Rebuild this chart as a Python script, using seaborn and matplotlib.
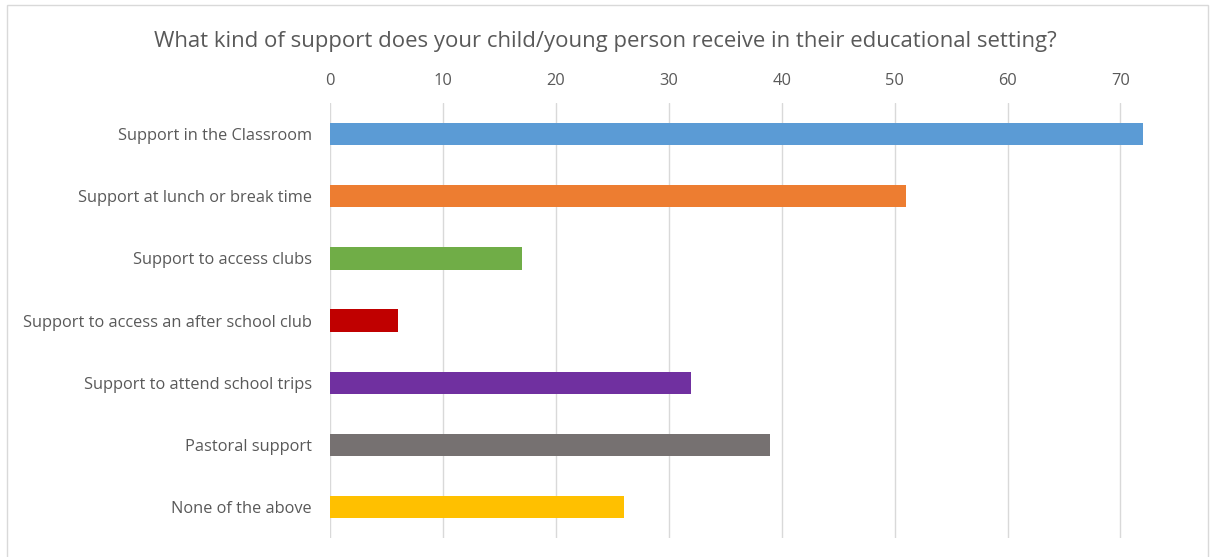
import pandas as pd
import matplotlib
matplotlib.use("Agg")
import matplotlib.pyplot as plt
import seaborn as sns
from matplotlib.patches import Rectangle

# survey answers and counts
categories = [
    "Support in the Classroom",
    "Support at lunch or break time",
    "Support to access clubs",
    "Support to access an after school club",
    "Support to attend school trips",
    "Pastoral support",
    "None of the above",
]
counts = [72, 51, 17, 6, 32, 39, 26]
bar_colors = ["#5B9BD5", "#ED7D31", "#70AD47", "#C00000", "#7030A0", "#767171", "#FFC000"]
x_ticks = [0, 10, 20, 30, 40, 50, 60, 70]

df = pd.DataFrame({"category": categories, "count": counts})

sns.set_style("white")
plt.rcParams["font.family"] = ["Open Sans", "DejaVu Sans"]
text_grey = "#595959"

fig = plt.figure(figsize=(12.11, 5.57), dpi=100)
ax = fig.add_axes([0.2725, 0.034, 0.718, 0.781])

sns.barplot(data=df, y="category", x="count", hue="category",
            palette=bar_colors, orient="h", width=0.36, legend=False,
            saturation=1, linewidth=0, ax=ax)

ax.set_xlim(0, 77)
ax.set_xticks(x_ticks)
ax.xaxis.tick_top()
ax.tick_params(axis="x", length=0, pad=10, labelsize=11.8, labelcolor=text_grey)
ax.tick_params(axis="y", length=0, pad=13, labelsize=11.8, labelcolor=text_grey)
ax.set_xlabel("")
ax.set_ylabel("")
ax.grid(axis="x", color="#D9D9D9", linewidth=1)
ax.set_axisbelow(True)
for side in ["top", "right", "bottom", "left"]:
    ax.spines[side].set_visible(False)

fig.text(0.5, 0.926, "What kind of support does your child/young person receive in their educational setting?",
         ha="center", va="center", fontsize=15.9, color=text_grey)

# light border round the chart area
fig.patches.append(Rectangle((7 / 1211, -0.05), 1201 / 1211, 1.041,
                             transform=fig.transFigure, fill=False,
                             edgecolor="#D9D9D9", linewidth=1))

fig.savefig("out.png", dpi=100)
